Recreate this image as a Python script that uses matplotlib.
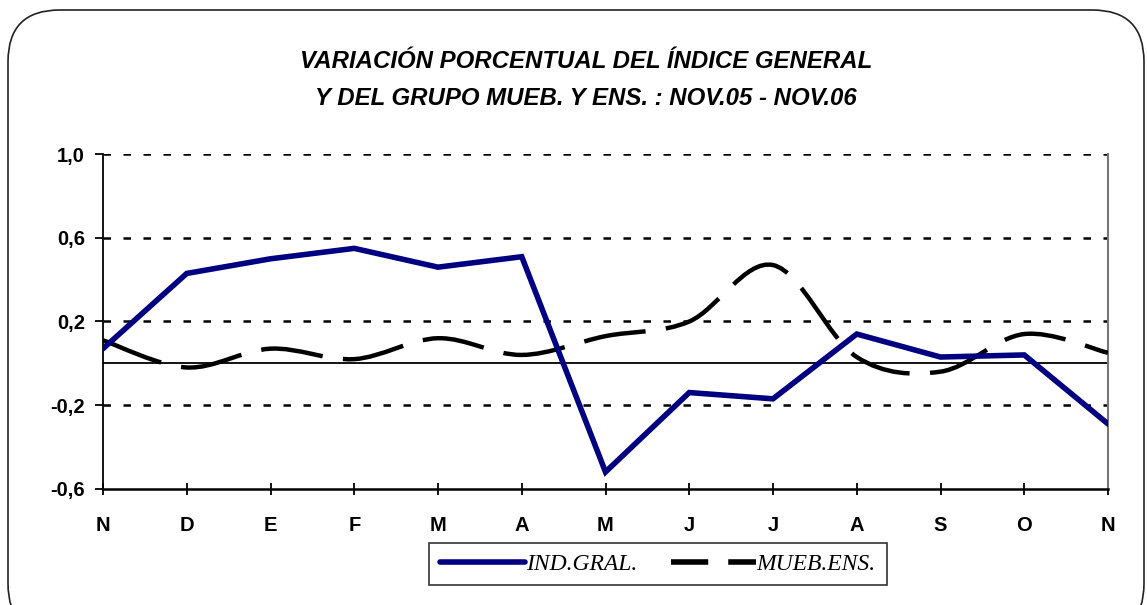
import matplotlib.pyplot as plt
from matplotlib.path import Path
from matplotlib.patches import PathPatch, FancyBboxPatch
from matplotlib.lines import Line2D

# months Nov.05 - Nov.06
meses = ["N", "D", "E", "F", "M", "A", "M", "J", "J", "A", "S", "O", "N"]
ind_gral = [0.07, 0.43, 0.50, 0.55, 0.46, 0.51, -0.52, -0.14, -0.17, 0.14, 0.03, 0.04, -0.29]
mueb_ens = [0.11, -0.02, 0.07, 0.02, 0.12, 0.04, 0.13, 0.20, 0.47, 0.03, -0.04, 0.14, 0.05]
yticks = [-0.6, -0.2, 0.2, 0.6, 1.0]
ylabels = ["-0,6", "-0,2", "0,2", "0,6", "1,0"]

fig = plt.figure(figsize=(11.47, 6.05), dpi=100)
fig.patch.set_facecolor("white")

# rounded chart-area border
frame = FancyBboxPatch((8 / 1147, -0.05), 1136 / 1147, 1 - 10 / 605 + 0.05,
                       boxstyle="round,pad=0,rounding_size=0.045",
                       transform=fig.transFigure, fill=False,
                       edgecolor="#222222", linewidth=1.2,
                       mutation_aspect=1147 / 605)
fig.patches.append(frame)

ax = fig.add_axes([103 / 1147, 1 - 488.7 / 605, (1108 - 103) / 1147, (488.7 - 154.3) / 605])
x = list(range(len(meses)))

# dotted gridlines
for yv in [0.6, 0.2, -0.2, 1.0]:
    ax.axhline(yv, color="black", linewidth=1.8, linestyle=(0, (3.0, 5.0)), zorder=1)
ax.axhline(0, color="black", linewidth=1.3, zorder=1)

# indice general
ax.plot(x, ind_gral, color="#000080", linewidth=4, solid_capstyle="round",
        solid_joinstyle="miter", zorder=4)

# muebles y enseres, smoothed line (bezier through the points)
pts = list(zip(x, mueb_ens))
verts = [pts[0]]
codes = [Path.MOVETO]
n = len(pts)
for i in range(n - 1):
    p0 = pts[i - 1] if i > 0 else pts[i]
    p1 = pts[i]
    p2 = pts[i + 1]
    p3 = pts[i + 2] if i + 2 < n else pts[i + 1]
    c1 = (p1[0] + (p2[0] - p0[0]) / 6, p1[1] + (p2[1] - p0[1]) / 6)
    c2 = (p2[0] - (p3[0] - p1[0]) / 6, p2[1] - (p3[1] - p1[1]) / 6)
    verts += [c1, c2, p2]
    codes += [Path.CURVE4] * 3
curve = PathPatch(Path(verts, codes), fill=False, edgecolor="black", linewidth=3.2,
                  linestyle=(0, (14, 4.6)), capstyle="butt", zorder=3)
ax.add_patch(curve)

ax.set_xlim(0, len(meses) - 1)
ax.set_ylim(-0.6, 1.0)
ax.set_xticks(x)
ax.set_xticklabels(meses)
ax.set_yticks(yticks)
ax.set_yticklabels(ylabels)
for lab in ax.get_xticklabels() + ax.get_yticklabels():
    lab.set_fontfamily("Liberation Sans")
    lab.set_fontweight("bold")
    lab.set_fontsize(14.5)
ax.tick_params(axis="x", direction="inout", length=9, width=1.3, pad=15)
ax.tick_params(axis="y", direction="out", length=6, width=1.3, pad=7)

ax.spines["top"].set_visible(False)
ax.spines["right"].set_color("#777777")
ax.spines["right"].set_linewidth(1.5)
ax.spines["left"].set_linewidth(1.3)
ax.spines["bottom"].set_linewidth(1.8)

fig.text(586 / 1147, 1 - 62 / 605, "VARIACIÓN PORCENTUAL DEL ÍNDICE GENERAL",
         ha="center", va="center", fontfamily="Liberation Sans", fontweight="bold",
         fontstyle="italic", fontsize=17.3)
fig.text(586 / 1147, 1 - 99 / 605, "Y DEL GRUPO MUEB. Y ENS. : NOV.05 - NOV.06",
         ha="center", va="center", fontfamily="Liberation Sans", fontweight="bold",
         fontstyle="italic", fontsize=17.3)

h1 = Line2D([], [], color="#000080", linewidth=4, solid_capstyle="round")
h2 = Line2D([], [], color="black", linewidth=4, dashes=(6.7, 3.6))
leg = fig.legend([h1, h2], ["IND.GRAL.", "MUEB.ENS."], loc="center",
                 bbox_to_anchor=(658 / 1147, 1 - 564 / 605), ncol=2,
                 frameon=True, fancybox=False, handlelength=3.6, columnspacing=1.4,
                 handletextpad=0.05, borderpad=0.45, borderaxespad=0,
                 prop={"family": "Liberation Serif", "style": "italic", "size": 17})
leg.get_frame().set_edgecolor("black")
leg.get_frame().set_linewidth(1.2)

fig.savefig("out.png", dpi=100)
